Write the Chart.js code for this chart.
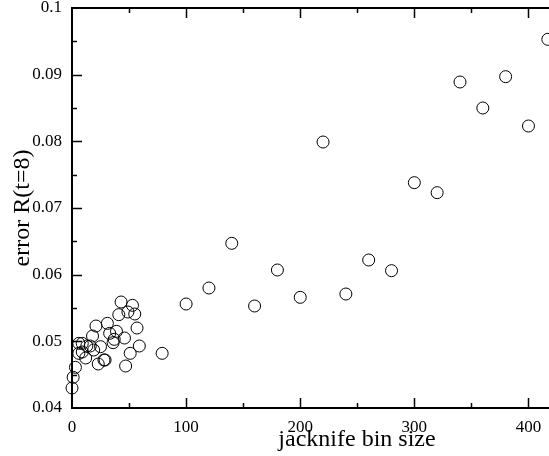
<!DOCTYPE html>
<html>
<head>
<meta charset="utf-8">
<script src="https://cdn.jsdelivr.net/npm/chart.js@4.4.0/dist/chart.umd.min.js"></script>
<style>
    html, body { margin: 0; padding: 0; background: #fff; overflow: hidden; }
    canvas { display: block; }
</style>
</head>
<body>
<canvas id="graficoJacknife" width="549" height="456"></canvas>
<script>
// tamaño de bin del jacknife y error de R(t=8)
var binSizes = [0, 1, 3, 6, 6, 9, 9, 12, 13, 16, 18, 19, 21, 23, 25, 28, 29, 31, 33, 36, 37, 39, 41, 43, 46, 47, 49, 51, 53, 55, 57, 59, 79,
    100, 120, 140, 160, 180, 200, 220, 240, 260, 280, 300, 320, 340, 360, 380, 400, 417];
var errores = [0.0430, 0.0446, 0.0461, 0.0497, 0.0482, 0.0497, 0.0484, 0.0475, 0.0493, 0.0493, 0.0508, 0.0487, 0.0523, 0.0466, 0.0492, 0.0472, 0.0472,
    0.0527, 0.0512, 0.0498, 0.0503, 0.0515, 0.0540, 0.0559, 0.0505, 0.0463, 0.0544, 0.0482, 0.0554, 0.0541, 0.0520, 0.0493, 0.0482,
    0.0556, 0.0580, 0.0647, 0.0553, 0.0607, 0.0566, 0.0799, 0.0571, 0.0622, 0.0606, 0.0738, 0.0723, 0.0889, 0.0850, 0.0897, 0.0823, 0.0953];

var xTicks = [0, 100, 200, 300, 400];
var yTicks = [0.04, 0.05, 0.06, 0.07, 0.08, 0.09, 0.1];
var xMinor = [50, 150, 250, 350];
var yMinor = [0.045, 0.055, 0.065, 0.075, 0.085, 0.095];

var xTitle = 'jacknife bin size';
var yTitle = 'error R(t=8)';

var puntos = binSizes.map(function (x, i) {
    return { x: x, y: errores[i] };
});

var fuente = "'Liberation Serif', 'Times New Roman', serif";

// ejes con marcas hacia dentro, estilo xmgrace
var marcoPlugin = {
    id: 'marco',
    afterDraw: function (chart) {
        var ctx = chart.ctx;
        var area = chart.chartArea;
        var sx = chart.scales.x;
        var sy = chart.scales.y;
        ctx.save();
        ctx.strokeStyle = '#000';
        ctx.lineWidth = 2;
        ctx.beginPath();
        ctx.moveTo(area.right + 2, area.top);
        ctx.lineTo(area.left, area.top);
        ctx.lineTo(area.left, area.bottom);
        ctx.lineTo(area.right + 2, area.bottom);
        ctx.stroke();

        ctx.lineWidth = 1.5;
        ctx.beginPath();
        xTicks.concat(xMinor).forEach(function (v) {
            var px = Math.round(sx.getPixelForValue(v)) + 0.5;
            var len = xTicks.indexOf(v) >= 0 ? 10 : 5;
            if (v === 0) return;
            ctx.moveTo(px, area.bottom);
            ctx.lineTo(px, area.bottom - len);
            ctx.moveTo(px, area.top);
            ctx.lineTo(px, area.top + len);
        });
        yTicks.concat(yMinor).forEach(function (v) {
            var py = Math.round(sy.getPixelForValue(v)) + 0.5;
            var len = yTicks.indexOf(v) >= 0 ? 10 : 5;
            if (v === 0.04 || v === 0.1) return;
            ctx.moveTo(area.left, py);
            ctx.lineTo(area.left + len, py);
        });
        ctx.stroke();

        // titulo del eje x
        ctx.fillStyle = '#000';
        ctx.font = '24px ' + fuente;
        ctx.textAlign = 'center';
        ctx.textBaseline = 'middle';
        ctx.fillText(xTitle, 357, 440);
        ctx.restore();
    }
};

var ctx = document.getElementById('graficoJacknife').getContext('2d');
var myChart = new Chart(ctx, {
    type: 'scatter',
    data: {
        datasets: [{
            data: puntos,
            pointStyle: 'circle',
            pointRadius: 6,
            pointHoverRadius: 6,
            borderWidth: 1,
            borderColor: '#000',
            backgroundColor: 'rgba(0,0,0,0)',
            clip: false
        }]
    },
    options: {
        responsive: false,
        animation: false,
        devicePixelRatio: 1,
        layout: { autoPadding: false, padding: { top: 8, left: 0, right: 0, bottom: 0 } },
        plugins: {
            legend: { display: false },
            tooltip: { enabled: false }
        },
        scales: {
            x: {
                type: 'linear',
                min: 0,
                max: 418,
                grid: { display: false },
                border: { display: false },
                afterBuildTicks: function (scale) {
                    scale.ticks = xTicks.map(function (v) { return { value: v }; });
                },
                afterFit: function (scale) {
                    scale.height = 48;
                    scale.paddingLeft = 0;
                    scale.paddingRight = 0;
                },
                ticks: {
                    padding: 1,
                    color: '#000',
                    maxRotation: 0,
                    font: { family: fuente, size: 17 },
                    callback: function (v) { return String(v); }
                }
            },
            y: {
                type: 'linear',
                min: 0.04,
                max: 0.1,
                grid: { display: false },
                border: { display: false },
                afterBuildTicks: function (scale) {
                    scale.ticks = yTicks.map(function (v) { return { value: v }; });
                },
                afterFit: function (scale) {
                    scale.width = 72;
                    scale.paddingTop = 0;
                    scale.paddingBottom = 0;
                },
                title: {
                    display: true,
                    text: yTitle,
                    color: '#000',
                    padding: { top: 8, bottom: 0 },
                    font: { family: fuente, size: 24, weight: 'normal' }
                },
                ticks: {
                    padding: 2,
                    color: '#000',
                    font: { family: fuente, size: 17 },
                    callback: function (v) {
                        return String(Math.round(v * 100) / 100);
                    }
                }
            }
        }
    },
    plugins: [marcoPlugin]
});
</script>
</body>
</html>
